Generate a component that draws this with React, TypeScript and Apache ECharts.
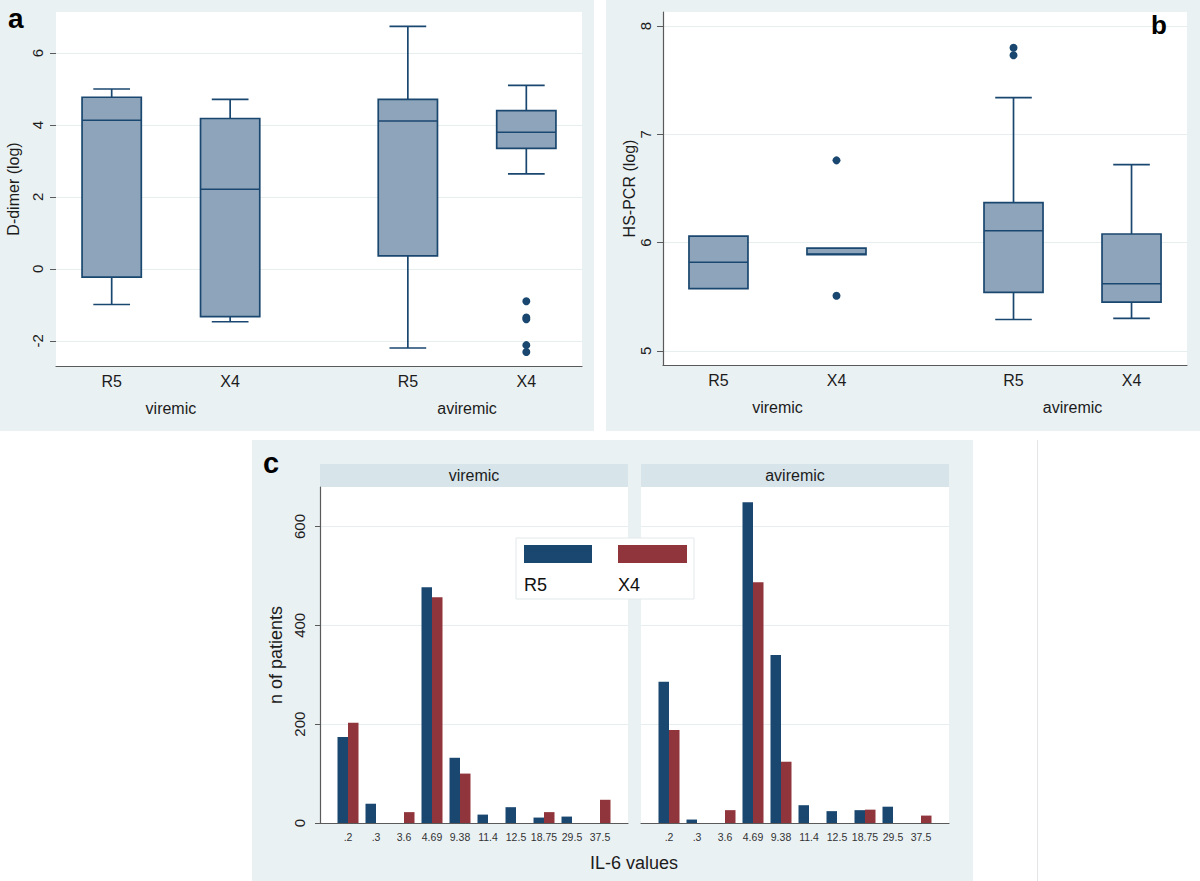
import React, { useEffect, useRef } from 'react';
import * as echarts from 'echarts';

// ---------- data ----------
const groupNames = ['viremic', 'aviremic'];
const strainNames = ['R5', 'X4', 'R5', 'X4'];

// Panel a: D-dimer (log) boxes: [min, Q1, median, Q3, max]
const dDimerBoxes = [
  [-0.99, -0.23, 4.13, 4.77, 5.0],
  [-1.47, -1.33, 2.21, 4.18, 4.71],
  [-2.2, 0.36, 4.11, 4.71, 6.74],
  [2.64, 3.35, 3.8, 4.4, 5.1],
];
// [box index, value]
const dDimerOutliers = [
  [3, -0.9],
  [3, -1.35],
  [3, -1.4],
  [3, -2.12],
  [3, -2.31],
];
const dDimerTicks = [-2, 0, 2, 4, 6];

// Panel b: HS-PCR (log)
const hsPcrBoxes = [
  [5.575, 5.575, 5.82, 6.06, 6.06],
  [5.89, 5.89, 5.895, 5.95, 5.95],
  [5.29, 5.54, 6.11, 6.37, 7.34],
  [5.3, 5.45, 5.62, 6.08, 6.72],
];
const hsPcrOutliers = [
  [1, 6.76],
  [1, 5.51],
  [2, 7.8],
  [2, 7.73],
];
const hsPcrTicks = [5, 6, 7, 8];

// Panel c: IL-6 values
const il6Values = ['.2', '.3', '3.6', '4.69', '9.38', '11.4', '12.5', '18.75', '29.5', '37.5'];
const viremicR5 = [174, 39, 0, 477, 132, 17, 32, 11, 13, 0];
const viremicX4 = [203, 0, 22, 457, 100, 0, 0, 22, 0, 47];
const aviremicR5 = [286, 7, 0, 649, 340, 36, 24, 26, 33, 0];
const aviremicX4 = [188, 0, 26, 487, 124, 0, 0, 27, 0, 15];
const countTicks = [0, 200, 400, 600];

// ---------- layout / style ----------
const slotX = [0, 1, 2.5, 3.5];
const groupX = [0.5, 3.0];
const FONT = '"Liberation Sans", Arial, Helvetica, sans-serif';
const TEXT = '#1c1c1c';
const NAVY = '#1a476f';
const MAROON = '#90353b';
const BOX_FILL = '#8ea4ba';
const PANEL_BG = '#eaf1f3';
const STRIP_BG = '#d7e4ea';
const GRID_LINE = '#e6eef0';
const AXIS = '#5a5a5a';

const GA = { left: 56, top: 12, width: 526, height: 354 };
const GB = { left: 663, top: 12, width: 524, height: 353 };
const GC1 = { left: 320, top: 487, width: 308, height: 336 };
const GC2 = { left: 641, top: 487, width: 308, height: 336 };

function boxRender(params: any, api: any) {
  const x = api.value(0);
  const mn = api.value(1);
  const q1 = api.value(2);
  const md = api.value(3);
  const q3 = api.value(4);
  const mx = api.value(5);
  const boxW = api.size([0.5, 0])[0];
  const capW = api.size([0.31, 0])[0];
  const pMin = api.coord([x, mn]);
  const pQ1 = api.coord([x, q1]);
  const pMd = api.coord([x, md]);
  const pQ3 = api.coord([x, q3]);
  const pMax = api.coord([x, mx]);
  const cx = pMd[0];
  const ls = { stroke: NAVY, lineWidth: 1.7, fill: 'none' };
  const children: any[] = [];
  if (mx > q3) {
    children.push({ type: 'line', shape: { x1: cx, y1: pQ3[1], x2: cx, y2: pMax[1] }, style: ls });
    children.push({ type: 'line', shape: { x1: cx - capW / 2, y1: pMax[1], x2: cx + capW / 2, y2: pMax[1] }, style: ls });
  }
  if (mn < q1) {
    children.push({ type: 'line', shape: { x1: cx, y1: pQ1[1], x2: cx, y2: pMin[1] }, style: ls });
    children.push({ type: 'line', shape: { x1: cx - capW / 2, y1: pMin[1], x2: cx + capW / 2, y2: pMin[1] }, style: ls });
  }
  children.push({
    type: 'rect',
    shape: { x: cx - boxW / 2, y: pQ3[1], width: boxW, height: pQ1[1] - pQ3[1] },
    style: { fill: BOX_FILL, stroke: NAVY, lineWidth: 1.7 },
  });
  children.push({
    type: 'line',
    shape: { x1: cx - boxW / 2, y1: pMd[1], x2: cx + boxW / 2, y2: pMd[1] },
    style: { stroke: NAVY, lineWidth: 1.5 },
  });
  return { type: 'group', children };
}

function strainAxis(gridIndex: number) {
  return {
    type: 'value',
    gridIndex,
    min: -0.47,
    max: 3.97,
    splitLine: { show: false },
    axisTick: { show: false },
    axisLine: { show: true, onZero: false, lineStyle: { color: AXIS, width: 1.2 } },
    axisLabel: {
      customValues: slotX,
      formatter: (v: number) => strainNames[slotX.indexOf(v)] ?? '',
      fontSize: 16,
      color: TEXT,
      fontFamily: FONT,
      margin: 7,
    },
  };
}

function groupAxis(gridIndex: number) {
  return {
    type: 'value',
    gridIndex,
    min: -0.47,
    max: 3.97,
    position: 'bottom',
    offset: 27,
    splitLine: { show: false },
    axisTick: { show: false },
    axisLine: { show: false, onZero: false },
    axisLabel: {
      customValues: groupX,
      formatter: (v: number) => groupNames[groupX.indexOf(v)] ?? '',
      fontSize: 16,
      color: TEXT,
      fontFamily: FONT,
      margin: 7,
    },
  };
}

function App() {
  const ref = useRef<HTMLDivElement>(null);
  useEffect(() => {
    if (!ref.current) return;
    const chart = echarts.init(ref.current, undefined, { renderer: 'svg' });
    const boxData = (boxes: number[][]) => boxes.map((b, i) => [slotX[i], ...b]);
    const outData = (outs: number[][]) => outs.map((o) => [slotX[o[0]], o[1]]);
    const catData = ['', ...il6Values, ''];
    const pad = (arr: number[]) => ['-', ...arr, '-'];

    const catAxis = (gridIndex: number) => ({
      type: 'category',
      gridIndex,
      data: catData,
      boundaryGap: false,
      axisTick: { show: false },
      axisLine: { show: true, onZero: false, lineStyle: { color: AXIS, width: 1.2 } },
      axisLabel: { interval: 0, fontSize: 10.5, color: '#333', fontFamily: FONT, margin: 8 },
      splitLine: { show: false },
    });

    const countAxis = (gridIndex: number, showAxis: boolean) => ({
      type: 'value',
      gridIndex,
      min: 0,
      max: 680,
      minInterval: 200,
      maxInterval: 200,
      axisLine: { show: showAxis, onZero: false, lineStyle: { color: AXIS, width: 1.2 } },
      axisTick: { show: showAxis, length: 5, customValues: countTicks, lineStyle: { color: AXIS } },
      axisLabel: {
        show: showAxis,
        customValues: countTicks,
        rotate: 90,
        fontSize: 15,
        color: TEXT,
        fontFamily: FONT,
        margin: 13,
      },
      splitLine: { show: true, lineStyle: { color: GRID_LINE, width: 1 } },
      name: showAxis ? 'n of patients' : '',
      nameLocation: 'middle',
      nameGap: 35,
      nameTextStyle: { fontSize: 18, color: TEXT, fontFamily: FONT },
    });

    const barBase = { type: 'bar', barWidth: 10.5, barGap: '0%', z: 3 };

    chart.setOption({
      animation: false,
      backgroundColor: '#ffffff',
      textStyle: { fontFamily: FONT },
      grid: [
        { ...GA, show: true, backgroundColor: '#ffffff', borderWidth: 0 },
        { ...GB, show: true, backgroundColor: '#ffffff', borderWidth: 0 },
        { ...GC1, show: true, backgroundColor: '#ffffff', borderWidth: 0 },
        { ...GC2, show: true, backgroundColor: '#ffffff', borderWidth: 0 },
      ],
      xAxis: [strainAxis(0), groupAxis(0), strainAxis(1), groupAxis(1), catAxis(2), catAxis(3)],
      yAxis: [
        {
          type: 'value',
          gridIndex: 0,
          min: -2.7,
          max: 7.14,
          minInterval: 2,
          maxInterval: 2,
          axisLine: { show: false, onZero: false },
          axisTick: { show: true, length: 6, customValues: dDimerTicks, lineStyle: { color: AXIS } },
          axisLabel: { customValues: dDimerTicks, rotate: 90, fontSize: 15, color: TEXT, fontFamily: FONT, margin: 11 },
          splitLine: { show: true, lineStyle: { color: GRID_LINE, width: 1 } },
          name: 'D-dimer (log)',
          nameLocation: 'middle',
          nameGap: 35,
          nameTextStyle: { fontSize: 16, color: TEXT, fontFamily: FONT },
        },
        {
          type: 'value',
          gridIndex: 1,
          min: 4.87,
          max: 8.13,
          minInterval: 1,
          maxInterval: 1,
          axisLine: { show: true, onZero: false, lineStyle: { color: AXIS, width: 1.2 } },
          axisTick: { show: true, length: 6, customValues: hsPcrTicks, lineStyle: { color: AXIS } },
          axisLabel: { customValues: hsPcrTicks, rotate: 90, fontSize: 15, color: TEXT, fontFamily: FONT, margin: 10 },
          splitLine: { show: true, lineStyle: { color: GRID_LINE, width: 1 } },
          name: 'HS-PCR (log)',
          nameLocation: 'middle',
          nameGap: 25,
          nameTextStyle: { fontSize: 16, color: TEXT, fontFamily: FONT },
        },
        countAxis(2, true),
        countAxis(3, false),
      ],
      series: [
        { type: 'custom', xAxisIndex: 0, yAxisIndex: 0, renderItem: boxRender, encode: { x: 0, y: [1, 2, 3, 4, 5] }, data: boxData(dDimerBoxes), z: 3 },
        { type: 'scatter', xAxisIndex: 0, yAxisIndex: 0, data: outData(dDimerOutliers), symbolSize: 8, itemStyle: { color: NAVY, opacity: 1 }, z: 4 },
        { type: 'custom', xAxisIndex: 2, yAxisIndex: 1, renderItem: boxRender, encode: { x: 0, y: [1, 2, 3, 4, 5] }, data: boxData(hsPcrBoxes), z: 3 },
        { type: 'scatter', xAxisIndex: 2, yAxisIndex: 1, data: outData(hsPcrOutliers), symbolSize: 8, itemStyle: { color: NAVY, opacity: 1 }, z: 4 },
        { ...barBase, name: 'R5', xAxisIndex: 4, yAxisIndex: 2, data: pad(viremicR5), itemStyle: { color: NAVY } },
        { ...barBase, name: 'X4', xAxisIndex: 4, yAxisIndex: 2, data: pad(viremicX4), itemStyle: { color: MAROON } },
        { ...barBase, name: 'R5', xAxisIndex: 5, yAxisIndex: 3, data: pad(aviremicR5), itemStyle: { color: NAVY } },
        { ...barBase, name: 'X4', xAxisIndex: 5, yAxisIndex: 3, data: pad(aviremicX4), itemStyle: { color: MAROON } },
      ],
      graphic: [
        { type: 'rect', z: -100, shape: { x: 0, y: 0, width: 594, height: 431 }, style: { fill: PANEL_BG } },
        { type: 'rect', z: -100, shape: { x: 606, y: 0, width: 594, height: 431 }, style: { fill: PANEL_BG } },
        { type: 'rect', z: -100, shape: { x: 252, y: 440, width: 721, height: 441 }, style: { fill: PANEL_BG } },
        { type: 'line', z: -100, shape: { x1: 1037.5, y1: 440, x2: 1037.5, y2: 881 }, style: { stroke: '#e2e6e8', lineWidth: 1 } },
        { type: 'rect', z: -50, shape: { x: GC1.left, y: 464, width: GC1.width, height: 23 }, style: { fill: STRIP_BG } },
        { type: 'rect', z: -50, shape: { x: GC2.left, y: 464, width: GC2.width, height: 23 }, style: { fill: STRIP_BG } },
        {
          type: 'text', z: 10, x: GC1.left + GC1.width / 2, y: 475.5,
          style: { text: groupNames[0], font: `16px ${FONT}`, fill: TEXT, align: 'center', verticalAlign: 'middle' },
        },
        {
          type: 'text', z: 10, x: GC2.left + GC2.width / 2, y: 475.5,
          style: { text: groupNames[1], font: `16px ${FONT}`, fill: TEXT, align: 'center', verticalAlign: 'middle' },
        },
        {
          type: 'text', z: 10, x: 634, y: 863,
          style: { text: 'IL-6 values', font: `18px ${FONT}`, fill: TEXT, align: 'center', verticalAlign: 'middle' },
        },
        // legend
        { type: 'rect', z: 50, shape: { x: 516, y: 538, width: 178, height: 61 }, style: { fill: '#ffffff', stroke: '#e3e9eb', lineWidth: 1 } },
        { type: 'rect', z: 51, shape: { x: 524, y: 545, width: 68, height: 18 }, style: { fill: NAVY } },
        { type: 'rect', z: 51, shape: { x: 618, y: 545, width: 69, height: 18 }, style: { fill: MAROON } },
        {
          type: 'text', z: 51, x: 524, y: 585,
          style: { text: 'R5', font: `18px ${FONT}`, fill: '#111', align: 'left', verticalAlign: 'middle' },
        },
        {
          type: 'text', z: 51, x: 618, y: 585,
          style: { text: 'X4', font: `18px ${FONT}`, fill: '#111', align: 'left', verticalAlign: 'middle' },
        },
        // panel letters
        {
          type: 'text', z: 10, x: 8, y: 18,
          style: { text: 'a', font: `bold 28px ${FONT}`, fill: '#000', align: 'left', verticalAlign: 'middle' },
        },
        {
          type: 'text', z: 10, x: 1151, y: 25,
          style: { text: 'b', font: `bold 26px ${FONT}`, fill: '#000', align: 'left', verticalAlign: 'middle' },
        },
        {
          type: 'text', z: 10, x: 263, y: 463,
          style: { text: 'c', font: `bold 29px ${FONT}`, fill: '#000', align: 'left', verticalAlign: 'middle' },
        },
      ],
    });
    return () => chart.dispose();
  }, []);
  return <div ref={ref} style={{ position: 'fixed', left: 0, top: 0, width: 1200, height: 881 }} />;
}

export default App;
